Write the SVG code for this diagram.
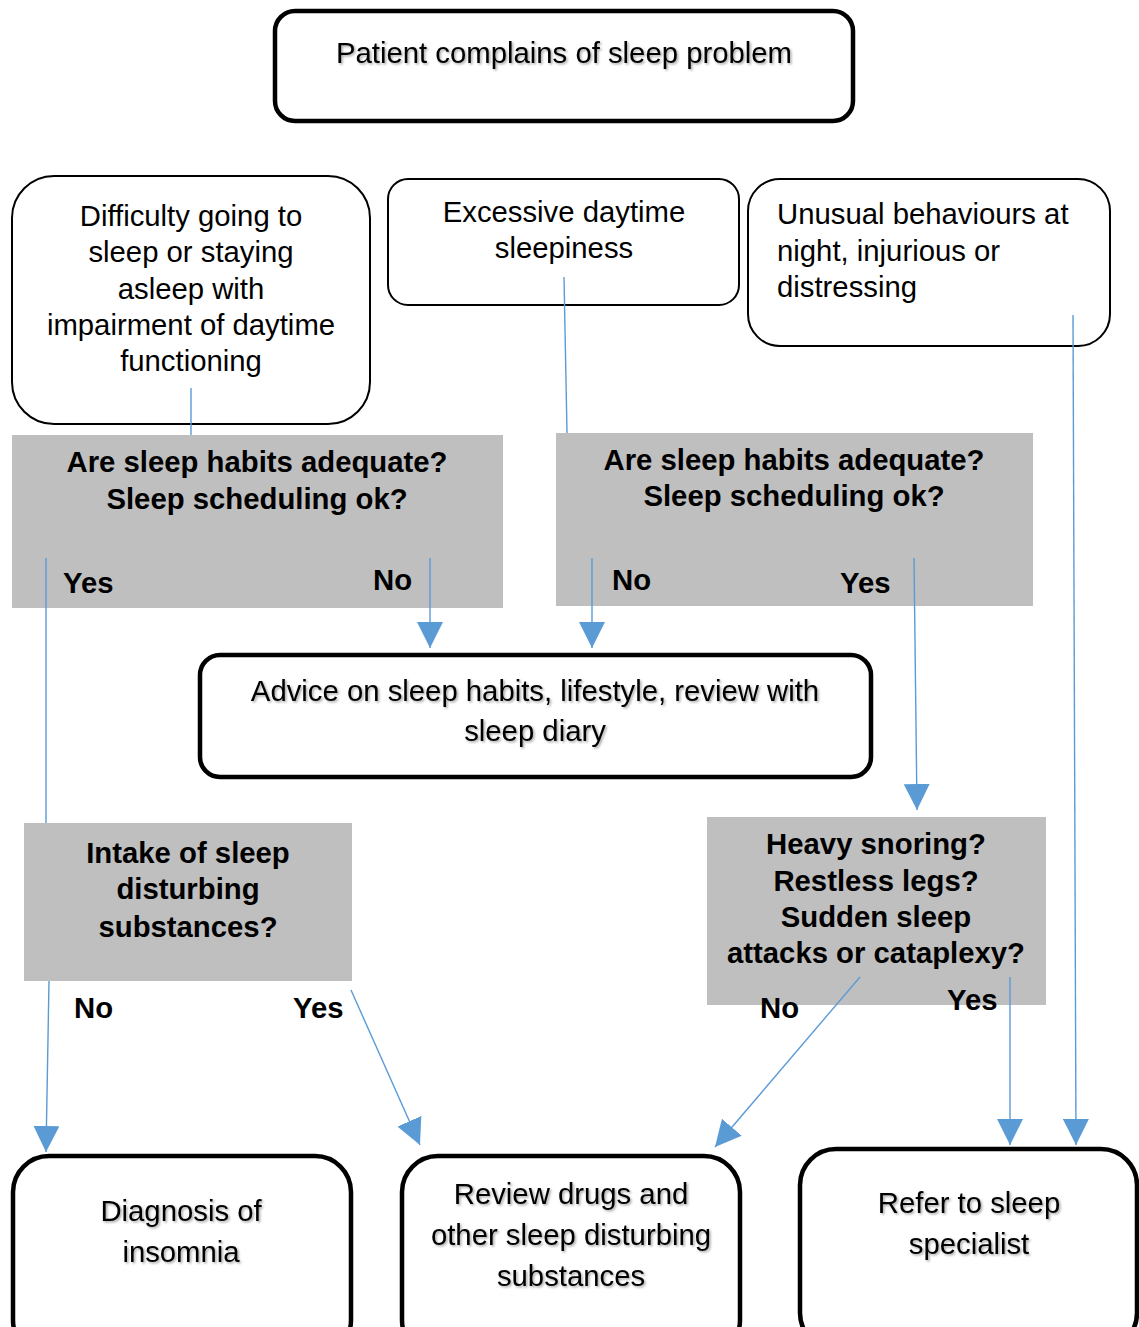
<svg xmlns="http://www.w3.org/2000/svg" width="1139" height="1327" viewBox="0 0 1139 1327">
<style>
.t{font-family:"Liberation Sans",Arial,sans-serif;font-size:29.3px;fill:#000}
.c{text-anchor:middle}
.b{font-weight:bold}
.box{fill:#fff;stroke:#000;stroke-width:2}
.bold{fill:#fff;stroke:#000;stroke-width:4.5}
.gray{fill:#BFBFBF}
.sh{filter:url(#sh)}
.con{stroke:#5B9BD5;stroke-width:1.4;fill:none}
.arr{marker-end:url(#ah)}
</style>
<defs>
<filter id="sh" x="-5%" y="-20%" width="110%" height="150%">
<feDropShadow dx="1.5" dy="1.5" stdDeviation="1" flood-color="#000" flood-opacity="0.35"/>
</filter>
<marker id="ah" markerUnits="userSpaceOnUse" markerWidth="26" markerHeight="26" refX="26" refY="13" orient="auto">
<path d="M0,0 L26,13 L0,26 z" fill="#5B9BD5"/>
</marker>
</defs>
<rect width="1139" height="1327" fill="#fff"/>

<g id="start">
<rect class="bold" x="275" y="11" width="578" height="110" rx="20"/>
<text class="t c sh" x="564" y="63">Patient complains of sleep problem</text>
</g>

<g id="insomnia-symptoms">
<rect class="box" x="12" y="176" width="358" height="248" rx="42"/>
<text class="t c" x="191" y="226">Difficulty going to</text>
<text class="t c" x="191" y="262">sleep or staying</text>
<text class="t c" x="191" y="299">asleep with</text>
<text class="t c" x="191" y="335">impairment of daytime</text>
<text class="t c" x="191" y="371">functioning</text>
</g>

<g id="daytime-sleepiness">
<rect class="box" x="388" y="179" width="351" height="126" rx="20"/>
<text class="t c" x="564" y="222">Excessive daytime</text>
<text class="t c" x="564" y="258">sleepiness</text>
</g>

<g id="unusual-behaviours">
<rect class="box" x="748" y="179" width="362" height="167" rx="32"/>
<text class="t" x="777" y="224">Unusual behaviours at</text>
<text class="t" x="777" y="261">night, injurious or</text>
<text class="t" x="777" y="297">distressing</text>
</g>

<g id="habits-left">
<rect class="gray" x="12" y="435" width="491" height="173"/>
<text class="t c b" x="257" y="472">Are sleep habits adequate?</text>
<text class="t c b" x="257" y="509">Sleep scheduling ok?</text>
<text class="t b" x="63" y="593">Yes</text>
<text class="t b" x="373" y="590">No</text>
</g>

<g id="habits-right">
<rect class="gray" x="556" y="433" width="477" height="173"/>
<text class="t c b" x="794" y="470">Are sleep habits adequate?</text>
<text class="t c b" x="794" y="506">Sleep scheduling ok?</text>
<text class="t b" x="612" y="590">No</text>
<text class="t b" x="840" y="593">Yes</text>
</g>

<g id="advice">
<rect class="bold" x="200" y="655" width="671" height="122" rx="20"/>
<text class="t c sh" x="535" y="701">Advice on sleep habits, lifestyle, review with</text>
<text class="t c sh" x="535" y="741">sleep diary</text>
</g>

<g id="substances">
<rect class="gray" x="24" y="823" width="328" height="158"/>
<text class="t c b" x="188" y="863">Intake of sleep</text>
<text class="t c b" x="188" y="899">disturbing</text>
<text class="t c b" x="188" y="937">substances?</text>
<text class="t b" x="74" y="1018">No</text>
<text class="t b" x="293" y="1018">Yes</text>
</g>

<g id="snoring">
<rect class="gray" x="707" y="817" width="339" height="188"/>
<text class="t c b" x="876" y="854">Heavy snoring?</text>
<text class="t c b" x="876" y="891">Restless legs?</text>
<text class="t c b" x="876" y="927">Sudden sleep</text>
<text class="t c b" x="876" y="963">attacks or cataplexy?</text>
<text class="t b" x="760" y="1018">No</text>
<text class="t b" x="947" y="1010">Yes</text>
</g>

<g id="diagnosis">
<rect class="bold" x="13" y="1156" width="338" height="200" rx="36"/>
<text class="t c sh" x="181" y="1221">Diagnosis of</text>
<text class="t c sh" x="181" y="1262">insomnia</text>
</g>

<g id="review-drugs">
<rect class="bold" x="402" y="1156" width="338" height="200" rx="36"/>
<text class="t c sh" x="571" y="1204">Review drugs and</text>
<text class="t c sh" x="571" y="1245">other sleep disturbing</text>
<text class="t c sh" x="571" y="1286">substances</text>
</g>

<g id="refer">
<rect class="bold" x="800" y="1149" width="337" height="200" rx="36"/>
<text class="t c sh" x="969" y="1213">Refer to sleep</text>
<text class="t c sh" x="969" y="1254">specialist</text>
</g>

<g id="connectors">
<line class="con" x1="191" y1="388" x2="191" y2="435"/>
<line class="con" x1="564" y1="277" x2="567" y2="433"/>
<line class="con arr" x1="1073" y1="315" x2="1076" y2="1145"/>
<line class="con arr" x1="430" y1="558" x2="430" y2="648"/>
<line class="con arr" x1="592" y1="558" x2="592" y2="648"/>
<line class="con" x1="46" y1="558" x2="46" y2="823"/>
<line class="con arr" x1="49" y1="981" x2="46" y2="1152"/>
<line class="con arr" x1="914" y1="558" x2="917" y2="810"/>
<line class="con arr" x1="351" y1="990" x2="420" y2="1145"/>
<line class="con arr" x1="860" y1="977" x2="715" y2="1147"/>
<line class="con arr" x1="1010" y1="977" x2="1010" y2="1145"/>
</g>
</svg>
